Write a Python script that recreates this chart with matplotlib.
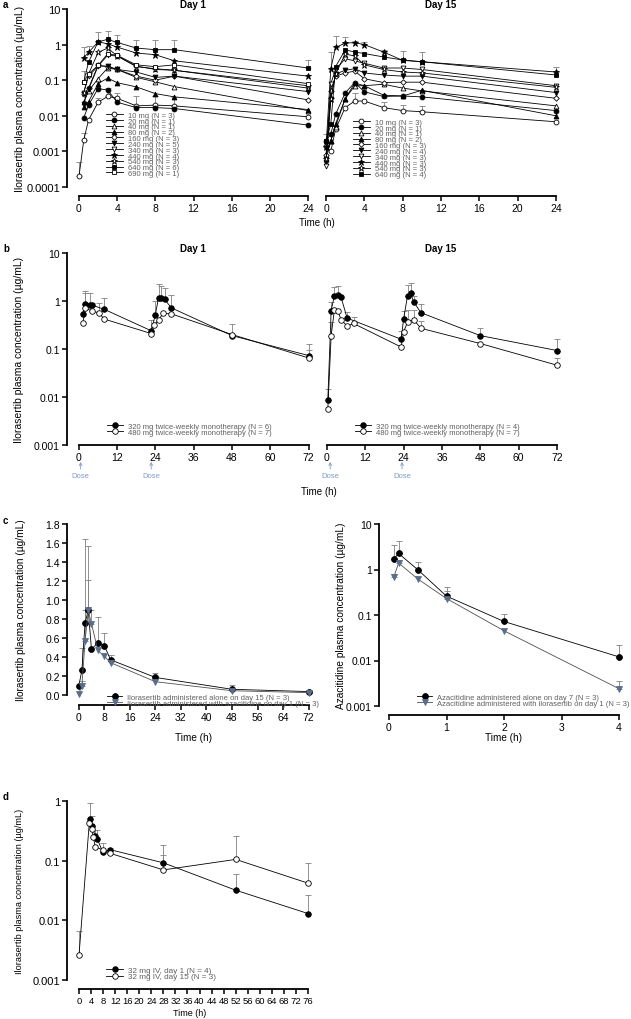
import numpy as np
import matplotlib
matplotlib.use("Agg")
import matplotlib.pyplot as plt

plt.rcParams['font.family'] = ['Liberation Sans', 'DejaVu Sans']

W, H = 631, 1020
nan = np.nan

# ---- panel a: single dose, day 1 and day 15
t_a = [0, 0.5, 1, 2, 3, 4, 6, 8, 10, 24]
doses_a = [10, 20, 40, 80, 160, 240, 340, 440, 540, 640, 690]
n_day1 = [3, 1, 1, 2, 3, 5, 3, 4, 3, 6, 1]
n_day15 = [3, 1, 1, 2, 3, 4, 3, 3, 3, 4]

d1_10 = [2e-4, 0.0021, 0.0076, 0.024, 0.035, 0.031, 0.019, 0.020, 0.019, 0.0094]
d1_20 = [nan, 0.0088, 0.020, 0.058, 0.053, 0.024, 0.017, 0.017, 0.016, 0.0055]
d1_40 = [nan, 0.025, 0.05, 0.11, 0.22, 0.20, 0.12, 0.09, 0.066, 0.014]
d1_80 = [nan, 0.018, 0.025, 0.08, 0.115, 0.085, 0.065, 0.042, 0.034, 0.015]
d1_160 = [nan, 0.04, 0.06, 0.26, 0.24, 0.20, 0.13, 0.10, 0.13, 0.028]
d1_240 = [nan, 0.022, 0.055, 0.25, 0.25, 0.20, 0.17, 0.12, 0.13, 0.048]
d1_340 = [nan, 0.045, 0.13, 0.25, 0.50, 0.48, 0.25, 0.20, 0.19, 0.06]
d1_440 = [nan, 0.43, 0.60, 1.2, 1.05, 0.85, 0.58, 0.52, 0.35, 0.13]
d1_540 = [nan, 0.045, 0.15, 0.60, 0.80, 0.48, 0.24, 0.21, 0.19, 0.07]
d1_640 = [nan, 0.09, 0.32, 1.2, 1.4, 1.15, 0.80, 0.72, 0.72, 0.22]
d1_690 = [nan, 0.09, 0.15, 0.26, 0.55, 0.50, 0.27, 0.24, 0.27, 0.08]
up1_10 = [5e-4, 0.0033, nan, 0.032, 0.059, 0.045, 0.036, 0.036, 0.033, nan]
up1_440 = [nan, 0.85, 0.9, nan, nan, nan, nan, nan, nan, nan]
up1_640 = [nan, 0.18, nan, 2.3, 2.45, 1.9, 1.35, 1.35, 1.35, 0.37]

d15_10 = [0.0014, 0.0010, 0.0042, 0.017, 0.026, 0.026, 0.017, 0.014, 0.013, 0.0068]
d15_20 = [0.002, 0.003, 0.011, 0.044, 0.086, 0.047, 0.035, 0.036, 0.034, 0.014]
d15_40 = [0.0006, 0.002, 0.005, 0.03, 0.07, 0.07, 0.077, 0.06, 0.05, 0.019]
d15_80 = [0.0008, 0.002, 0.006, 0.03, 0.083, 0.07, 0.038, 0.036, 0.052, 0.010]
d15_160 = [0.0008, 0.05, 0.13, 0.16, 0.18, 0.11, 0.086, 0.088, 0.088, 0.031]
d15_240 = [0.0005, 0.03, 0.15, 0.19, 0.21, 0.16, 0.14, 0.13, 0.13, 0.045]
d15_340 = [0.0004, 0.08, 0.20, 0.40, 0.35, 0.30, 0.22, 0.22, 0.20, 0.07]
d15_440 = [0.0013, 0.21, 0.83, 1.1, 1.14, 1.0, 0.62, 0.36, 0.33, 0.17]
d15_540 = [0.0006, 0.03, 0.15, 0.54, 0.48, 0.27, 0.20, 0.17, 0.16, 0.063]
d15_640 = [0.0019, 0.0058, 0.24, 0.71, 0.62, 0.56, 0.45, 0.37, 0.33, 0.14]
up15_10 = [0.003, nan, nan, nan, 0.045, nan, 0.024, 0.02, 0.019, nan]
up15_440 = [nan, 0.6, 1.78, 1.6, 1.29, 1.16, 0.72, 0.68, 0.60, 0.24]

# ---- panel b: twice-weekly monotherapy
t_b1_320 = [1.3, 1.9, 3.4, 4.2, 8, 22.7, 24, 25, 25.9, 26.9, 29, 48, 72]
b1_320 = [0.54, 0.85, 0.82, 0.82, 0.67, 0.24, 0.52, 1.18, 1.18, 1.08, 0.72, 0.19, 0.073]
up_b1_320 = [nan, 1.5, 1.45, nan, 1.15, 0.41, 1.0, 2.3, 2.1, 1.9, 1.34, nan, 0.13]
t_b1_480 = [1.3, 2.1, 4.2, 6.3, 8, 22.7, 23.7, 25, 26.5, 29, 48, 72]
b1_480 = [0.34, 0.72, 0.61, 0.57, 0.42, 0.21, 0.32, 0.41, 0.55, 0.54, 0.20, 0.065]
up_b1_480 = [nan, 1.6, 0.9, 0.9, nan, nan, nan, nan, nan, nan, 0.33, 0.095]
t_b15_320 = [0.25, 1.3, 2.3, 3.3, 4.4, 6.3, 23.2, 24, 25.2, 26.2, 27.1, 29.4, 48, 72]
b15_320 = [0.0087, 0.63, 1.28, 1.32, 1.2, 0.44, 0.16, 0.43, 1.28, 1.45, 0.97, 0.57, 0.19, 0.093]
up_b15_320 = [0.015, 0.95, 2.0, 2.1, nan, 0.6, 0.24, 0.62, 2.2, 2.4, 1.3, 0.88, 0.27, 0.16]
t_b15_480 = [0.25, 1.3, 2.3, 3.4, 4.4, 6.3, 8.3, 23.2, 24, 25.2, 27.1, 29.4, 48, 72]
b15_480 = [0.0055, 0.19, 0.64, 0.62, 0.41, 0.30, 0.34, 0.11, 0.23, 0.36, 0.41, 0.27, 0.13, 0.046]
up_b15_480 = [nan, 0.36, nan, nan, nan, nan, 0.47, nan, nan, 0.65, 0.65, 0.38, nan, 0.065]
dose_b1 = [0.6, 22.7]
dose_b15 = [1.0, 23.5]

# ---- panel c: ilorasertib / azacitidine interaction
t_c1 = [0, 1, 2, 3, 4, 6, 8, 10, 24, 48, 72]
c1_alone = [0.09, 0.26, 0.76, 0.89, 0.48, 0.55, 0.52, 0.37, 0.185, 0.06, 0.036]
up_c1_alone = [nan, 0.5, 1.64, 1.21, nan, 0.82, 0.65, 0.42, 0.23, 0.11, nan]
c1_aza = [0.01, 0.10, 0.57, 0.89, 0.75, 0.47, 0.41, 0.34, 0.14, 0.045, 0.025]
up_c1_aza = [nan, 0.15, 0.9, 1.57, 0.9, nan, nan, nan, nan, nan, nan]
t_c2 = [0.083, 0.167, 0.5, 1, 2, 4]
c2_alone = [1.71, 2.25, 0.99, 0.26, 0.072, 0.012]
up_c2_alone = [3.5, 4.2, 1.45, 0.42, 0.105, 0.022]
c2_ilo = [0.68, 1.39, 0.62, 0.23, 0.045, 0.0024]
up_c2_ilo = [0.8, 1.65, nan, 0.33, nan, 0.0035]

# ---- panel d: 32 mg IV
t_d1 = [3.7, 4.4, 5.3, 6.1, 7.9, 10.3, 28, 52, 76]
d_day1 = [0.49, 0.38, 0.26, 0.23, 0.138, 0.153, 0.092, 0.032, 0.013]
up_d_day1 = [0.92, 0.55, 0.33, 0.33, 0.2, 0.165, 0.18, 0.06, 0.027]
t_d15 = [0, 3.4, 4.2, 4.75, 5.4, 8.1, 10.3, 28, 52, 76]
d_day15 = [0.0026, 0.42, 0.34, 0.25, 0.17, 0.15, 0.133, 0.07, 0.105, 0.042]
up_d_day15 = [0.0065, nan, nan, nan, nan, nan, nan, 0.125, 0.26, 0.09]

log_ticks = [1e-4, 1e-3, 1e-2, 1e-1, 1, 10]
log_labels = ['0.0001', '0.001', '0.01', '0.1', '1', '10']
ylab = 'Ilorasertib plasma concentration (µg/mL)'
GREY = '#606060'
BLUEGREY = '#5a6e8c'

fig = plt.figure(figsize=(W / 100, H / 100), dpi=100)


def panel(box, xpx, xticks, ylim, yticks, ylabels, log=True, drop=0,
          left=True, xfs=7, yfs=7):
    L, T, R, B = box
    ax = fig.add_axes([L / W, 1 - B / H, (R - L) / W, (B - T) / H])
    x0, x1 = xticks[0], xticks[-1]
    k = (xpx[1] - xpx[0]) / (x1 - x0)
    ax.set_xlim(x0 - (xpx[0] - L) / k, x1 + (R - xpx[1]) / k)
    if log:
        ax.set_yscale('log')
    ax.set_ylim(ylim)
    ax.set_xticks(xticks)
    ax.set_yticks(yticks)
    ax.set_yticklabels(ylabels)
    ax.minorticks_off()
    ax.patch.set_alpha(0)
    for s in ['top', 'right']:
        ax.spines[s].set_visible(False)
    ax.spines['bottom'].set_bounds(x0, x1)
    ax.spines['bottom'].set_position(('outward', drop * 0.72))
    ax.spines['left'].set_bounds(*ylim)
    for s in ['bottom', 'left']:
        ax.spines[s].set_linewidth(1.3)
    ax.tick_params(width=1.1, length=3.5, pad=1.5)
    ax.tick_params(axis='x', labelsize=xfs)
    ax.tick_params(axis='y', labelsize=yfs)
    if not left:
        ax.spines['left'].set_visible(False)
        ax.tick_params(axis='y', left=False, labelleft=False)
    return ax


def draw(ax, t, y, up, marker, filled, ms=3.5, label=None, color='black',
         lc='black', lw=0.6):
    t = np.asarray(t, float)
    y = np.asarray(y, float)
    if marker == '*':
        ms = ms * 1.35
    if marker == 'D':
        ms = ms * 0.8
    ax.plot(t, y, color=lc, lw=lw, marker=marker, ms=ms,
            mfc=color if filled else 'white', mec=color, mew=0.6,
            label=label, clip_on=False, zorder=3)
    if up is not None:
        up = np.asarray(up, float)
        ok = ~np.isnan(up) & ~np.isnan(y)
        ax.errorbar(t[ok], y[ok], yerr=[np.zeros(ok.sum()), up[ok] - y[ok]],
                    fmt='none', ecolor='#808080', elinewidth=0.6, capsize=2.2,
                    capthick=0.6, zorder=2, clip_on=False)


def legend(ax, x, top, fs, spacing, hl=2.1, pad=0.6):
    leg = ax.legend(loc='upper left', bbox_to_anchor=(x / W, 1 - top / H),
                    bbox_transform=fig.transFigure, frameon=False, fontsize=fs,
                    borderpad=0, borderaxespad=0, labelspacing=spacing,
                    handlelength=hl, handletextpad=pad)
    for txt in leg.get_texts():
        txt.set_color(GREY)
    return leg


a_marker = ['o', 'o', '^', '^', 'D', 'v', 'v', '*', '*', 's', 's']
a_filled = [False, True, False, True, False, True, False, True, False, True, False]
day_ticks = [0, 4, 8, 12, 16, 20, 24]

# ---- panel a
ax1 = panel((67, 10, 310, 188), (79, 308), day_ticks,
            (1e-4, 10), log_ticks, log_labels, drop=9, xfs=7.5, yfs=8)
day1 = [d1_10, d1_20, d1_40, d1_80, d1_160, d1_240, d1_340, d1_440, d1_540,
        d1_640, d1_690]
up1 = {0: up1_10, 7: up1_440, 9: up1_640}
for i, y in enumerate(day1):
    draw(ax1, t_a, y, up1.get(i), a_marker[i], a_filled[i],
         label=f'{doses_a[i]} mg (N = {n_day1[i]})')
legend(ax1, 106, 112.5, 5.5, -0.2, hl=2.2, pad=0.65)

ax2 = panel((320, 10, 560, 188), (326, 556), day_ticks,
            (1e-4, 10), log_ticks, log_labels, drop=9, left=False, xfs=7.5)
day15 = [d15_10, d15_20, d15_40, d15_80, d15_160, d15_240, d15_340, d15_440,
         d15_540, d15_640]
up15 = {0: up15_10, 7: up15_440}
for i, y in enumerate(day15):
    draw(ax2, t_a, y, up15.get(i), a_marker[i], a_filled[i],
         label=f'{doses_a[i]} mg (N = {n_day15[i]})')
legend(ax2, 353, 119.5, 5.5, -0.2, hl=2.2, pad=0.65)

fig.text(193 / W, 1 - 5 / H, 'Day 1', ha='center', va='center', fontsize=7, weight='bold')
fig.text(441 / W, 1 - 5 / H, 'Day 15', ha='center', va='center', fontsize=7, weight='bold')
fig.text(317 / W, 1 - 223 / H, 'Time (h)', ha='center', va='center', fontsize=7)
fig.text(20 / W, 1 - 99 / H, ylab, rotation=90, ha='center', va='center', fontsize=7.5)

# ---- panel b
b_ticks = [0, 12, 24, 36, 48, 60, 72]
bx1 = panel((67, 254, 311, 446), (78.7, 308.7), b_ticks, (1e-3, 10),
            log_ticks[1:], log_labels[1:], xfs=7.5, yfs=7.5)
draw(bx1, t_b1_320, b1_320, up_b1_320, 'o', True, ms=4,
     label='320 mg twice-weekly monotherapy (N = 6)')
draw(bx1, t_b1_480, b1_480, up_b1_480, 'o', False, ms=4,
     label='480 mg twice-weekly monotherapy (N = 7)')
legend(bx1, 107, 423.8, 5.5, -0.2, hl=2.1, pad=0.7)

bx2 = panel((320, 254, 561, 446), (327, 557), b_ticks, (1e-3, 10),
            log_ticks[1:], log_labels[1:], left=False, xfs=7.5)
draw(bx2, t_b15_320, b15_320, up_b15_320, 'o', True, ms=4,
     label='320 mg twice-weekly monotherapy (N = 4)')
draw(bx2, t_b15_480, b15_480, up_b15_480, 'o', False, ms=4,
     label='480 mg twice-weekly monotherapy (N = 7)')
legend(bx2, 355, 423.8, 5.5, -0.2, hl=2.1, pad=0.7)

for ax, doses in [(bx1, dose_b1), (bx2, dose_b15)]:
    for t in doses:
        ax.annotate('Dose', xy=(t, -0.088), xycoords=ax.get_xaxis_transform(),
                    xytext=(t, -0.14), textcoords=ax.get_xaxis_transform(),
                    ha='center', va='top', fontsize=5.5, color='#7f9ccc',
                    arrowprops=dict(arrowstyle='->', color='#7f9ccc', lw=0.6,
                                    shrinkA=0, shrinkB=0, mutation_scale=5))

fig.text(193 / W, 1 - 249 / H, 'Day 1', ha='center', va='center', fontsize=7, weight='bold')
fig.text(441 / W, 1 - 249 / H, 'Day 15', ha='center', va='center', fontsize=7, weight='bold')
fig.text(319 / W, 1 - 492 / H, 'Time (h)', ha='center', va='center', fontsize=7)
fig.text(19 / W, 1 - 350 / H, ylab, rotation=90, ha='center', va='center', fontsize=7.5)

# ---- panel c
lin_ticks = list(np.round(np.arange(0, 1.81, 0.2), 1))
cx1 = panel((67, 525, 311, 696), (78.7, 308.7), list(range(0, 73, 8)), (0, 1.8),
            lin_ticks, [f'{v:.1f}' for v in lin_ticks], log=False, drop=10,
            xfs=7.5, yfs=7.5)
draw(cx1, t_c1, c1_alone, up_c1_alone, 'o', True, ms=4.2,
     label='Ilorasertib administered alone on day 15 (N = 3)')
draw(cx1, t_c1, c1_aza, up_c1_aza, 'v', True, ms=4.2, color=BLUEGREY, lc='#505050',
     label='Ilorasertib administered with azacitidine on day 1 (N = 3)')
legend(cx1, 107, 694.8, 5.5, -0.2, hl=2.0, pad=0.65)

cx2 = panel((379, 525, 622, 707), (389, 619), [0, 1, 2, 3, 4], (1e-3, 10),
            log_ticks[1:], log_labels[1:], drop=9, xfs=7.5, yfs=7.5)
draw(cx2, t_c2, c2_alone, up_c2_alone, 'o', True, ms=4.2,
     label='Azacitidine administered alone on day 7 (N = 3)')
draw(cx2, t_c2, c2_ilo, up_c2_ilo, 'v', True, ms=4.2, color=BLUEGREY, lc='#505050',
     label='Azacitidine administered with ilorasertib on day 1 (N = 3)')
legend(cx2, 417, 694.8, 5.5, -0.2, hl=2.0, pad=0.65)

fig.text(194 / W, 1 - 738 / H, 'Time (h)', ha='center', va='center', fontsize=7.2)
fig.text(504 / W, 1 - 738 / H, 'Time (h)', ha='center', va='center', fontsize=7.2)
fig.text(21 / W, 1 - 610 / H, ylab, rotation=90, ha='center', va='center', fontsize=7.3)
fig.text(341 / W, 1 - 616 / H, 'Azacitidine plasma concentration (µg/mL)',
         rotation=90, ha='center', va='center', fontsize=7.3)

# ---- panel d
dx = panel((67, 802, 312, 981), (79, 308), list(range(0, 77, 4)), (1e-3, 1),
           log_ticks[1:5], log_labels[1:5], drop=9, xfs=6.8, yfs=8)
draw(dx, t_d1, d_day1, up_d_day1, 'o', True, ms=4, label='32 mg IV, day 1 (N = 4)')
draw(dx, t_d15, d_day15, up_d_day15, 'o', False, ms=4, label='32 mg IV, day 15 (N = 3)')
legend(dx, 106, 967.5, 5.9, -0.18, hl=2.1, pad=0.6)
fig.text(190 / W, 1 - 1014 / H, 'Time (h)', ha='center', va='center', fontsize=6.5)
fig.text(20 / W, 1 - 891 / H, ylab, rotation=90, ha='center', va='center', fontsize=6.6)

# panel letters
for letter, y in [('a', 5), ('b', 249), ('c', 521), ('d', 797)]:
    fig.text(3 / W, 1 - y / H, letter, ha='left', va='center', fontsize=7, weight='bold')

fig.savefig('out.png', dpi=100)
